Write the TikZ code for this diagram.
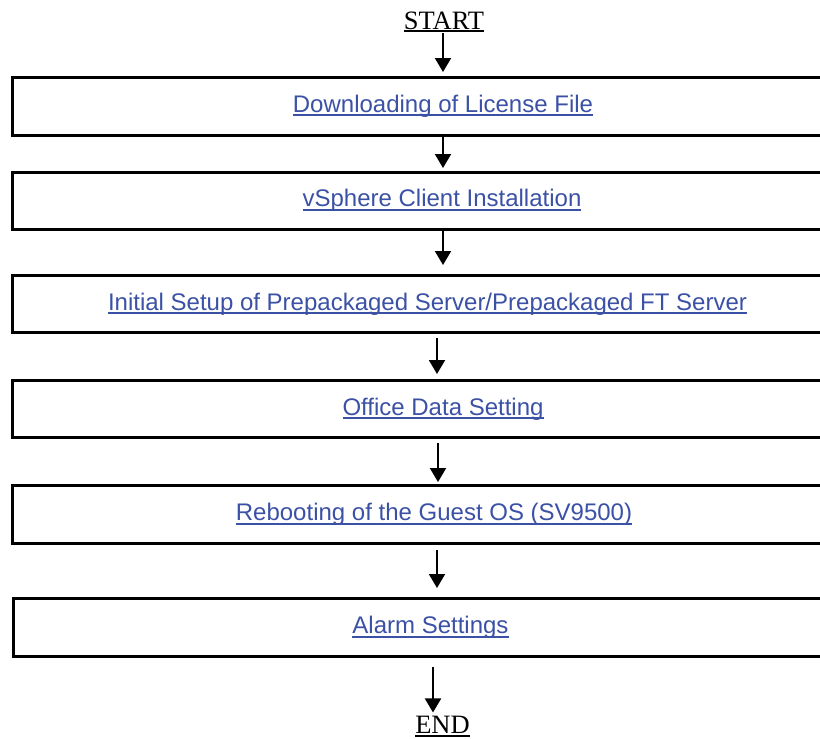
\documentclass[tikz,border=0pt]{standalone}
\usepackage{fontspec}
\setmainfont{Liberation Serif}
\newfontfamily\arialfont{Liberation Sans}
\usetikzlibrary{arrows.meta}
\definecolor{linkblue}{RGB}{59,81,165}
% text with a rule drawn #1 below its baseline, in the current colour
\newcommand\ulined[2]{\setbox0\hbox{#2}\rlap{\rule[-#1]{\wd0}{1.7pt}}\box0}

\begin{document}
\begin{tikzpicture}[x=1pt,y=-1pt,
  stepbox/.style={draw, line width=3pt, minimum width=866pt, inner sep=0pt,
                  outer sep=0pt, anchor=west},
  lbl/.style={font=\arialfont\fontsize{24}{28}\selectfont, text=linkblue,
              inner sep=0pt, anchor=base},
  term/.style={font=\fontsize{26.5}{30}\selectfont, inner sep=0pt, anchor=base},
  arr/.style={line width=2pt, -{Triangle[width=16pt,length=14pt]}}]
\useasboundingbox (0,0) rectangle (820,739);
\clip (0,0) rectangle (820,739);

% terminals
\node[term] (start) at (444,29) {\ulined{3pt}{START}};
\node[term] (end) at (442.5,733.5) {\ulined{3pt}{END}};

% process boxes (they run past the right edge)
\node[stepbox, minimum height=58pt]   (b1) at (12,106) {};
\node[stepbox, minimum height=57pt]   (b2) at (12,200.5) {};
\node[stepbox, minimum height=57pt]   (b3) at (12,303.5) {};
\node[stepbox, minimum height=57.5pt] (b4) at (12,408.75) {};
\node[stepbox, minimum height=58pt]   (b5) at (12,514) {};
\node[stepbox, minimum height=58pt]   (b6) at (13.5,627) {};

% box captions
\node[lbl] (t1) at (443,112)     {\ulined{4pt}{Downloading of License File}};
\node[lbl] (t2) at (442,206.5)   {\ulined{4pt}{vSphere Client Installation}};
\node[lbl] (t3) at (427.5,310)   {\ulined{4pt}{Initial Setup of Prepackaged Server/Prepackaged FT Server}};
\node[lbl] (t4) at (443,415)     {\ulined{4pt}{Office Data Setting}};
\node[lbl] (t5) at (434,520.5)   {\ulined{4pt}{Rebooting of the Guest OS (SV9500)}};
\node[lbl] (t6) at (430.5,633.5) {\ulined{4pt}{Alarm Settings}};

% flow arrows
\draw[arr, shorten <=1pt, shorten >=5pt]  ([xshift=-1pt]start.south) -- ([xshift=-2pt]b1.north);
\draw[arr, shorten >=4pt]                 ([xshift=-2pt]b1.south) -- ([xshift=-2pt]b2.north);
\draw[arr, shorten >=10pt]                ([xshift=-2pt]b2.south) -- ([xshift=-2pt]b3.north);
\draw[arr, shorten <=6pt, shorten >=6pt]  ([xshift=-8pt]b3.south) -- ([xshift=-8pt]b4.north);
\draw[arr, shorten <=5.5pt, shorten >=3pt]([xshift=-7pt]b4.south) -- ([xshift=-7pt]b5.north);
\draw[arr, shorten <=7pt, shorten >=10pt] ([xshift=-8pt]b5.south) -- ([xshift=-9.5pt]b6.north);
\draw[arr, shorten <=11pt, shorten >=3.5pt]([xshift=-13.5pt]b6.south) -- ([xshift=-9.5pt]end.north);
\end{tikzpicture}
\end{document}
